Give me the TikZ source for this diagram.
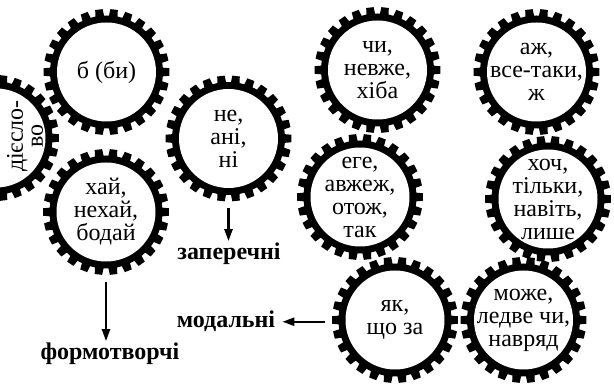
\documentclass[tikz,border=0pt]{standalone}
\usepackage{fontspec}
\setmainfont{Liberation Serif}
\usetikzlibrary{arrows.meta}
\tikzset{
  gearteeth/.pic={
    \fill[black] (0,0) circle[radius=56.5pt];
    \foreach \i [evaluate=\i as \a using \i*360/26] in {0,...,25}{
      \fill[black] (\a-4.5:56pt) -- (\a-3.4:63pt) -- (\a+3.4:63pt) -- (\a+4.5:56pt) -- cycle;
    }
    \fill[white] (0,0) circle[radius=49.5pt];
  },
  gearlbl/.style={circle, minimum size=126pt, inner sep=0pt, outer sep=7pt,
    align=center, font=\fontsize{24}{23}\selectfont},
  lbl/.style={font=\fontsize{24}{26}\selectfont\bfseries, inner sep=2pt},
  arr/.style={line width=2.4pt, -{Triangle[length=12pt,width=8pt]}},
}
\begin{document}
\begin{tikzpicture}[x=1pt,y=-1pt]
\useasboundingbox (0,0) rectangle (614,387);
\clip (0,0) rectangle (614,387);
% gears
\pic at (106.5,72) {gearteeth};
\node[gearlbl] (bi) at (106.5,72) {б (би)};
\pic at (-4,138) {gearteeth};
\node[gearlbl] (dieslovo) at (-4,138) {};
\node[rotate=90, align=center, inner sep=0pt, font=\fontsize{24}{20}\selectfont] (dtext) at (25,136) {дієсло-\\во};
\pic at (106,212) {gearteeth};
\node[gearlbl] (khai) at (106,212) {хай,\\нехай,\\бодай};
\pic at (228.5,138.5) {gearteeth};
\node[gearlbl] (ne) at (228.5,138.5) {не,\\ані,\\ні};
\pic at (377.5,70) {gearteeth};
\node[gearlbl] (chy) at (377.5,70) {чи,\\невже,\\хіба};
\pic at (536.5,72) {gearteeth};
\node[gearlbl] (azh) at (536.5,72) {аж,\\все-таки,\\ж};
\pic at (360,197) {gearteeth};
\node[gearlbl] (ehe) at (360,197) {еге,\\авжеж,\\отож,\\так};
\pic at (548,199) {gearteeth};
\node[gearlbl] (khoch) at (548,199) {хоч,\\тільки,\\навіть,\\лише};
\pic at (395,320) {gearteeth};
\node[gearlbl] (yak) at (395,320) {як,\\що за};
\pic at (523.5,320) {gearteeth};
\node[gearlbl] (mozhe) at (523.5,320) {може,\\ледве чи,\\навряд};
% labels
\node[lbl, anchor=base] (formo) at (110,360) {формотворчі};
\node[lbl, anchor=base] (zap) at (229,260) {заперечні};
\node[lbl, anchor=base] (modal) at (226,328) {модальні};
% arrows
\draw[arr] (khai.south) -- (khai.south |- formo.north);
\draw[arr] (ne.south) -- (ne.south |- zap.north);
\draw[arr, shorten >=5pt] (yak.west |- modal.east) -- (modal.east);
\end{tikzpicture}
\end{document}
